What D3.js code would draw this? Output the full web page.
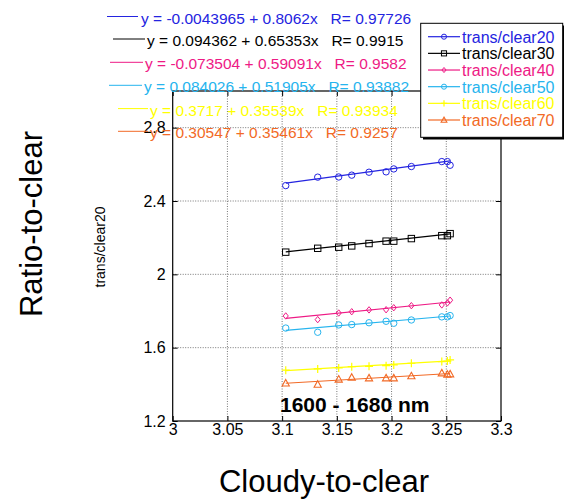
<!DOCTYPE html>
<html>
<head>
<meta charset="utf-8">
<script src="https://cdn.jsdelivr.net/npm/d3@7"></script>
<style>
  html, body { margin: 0; padding: 0; background: #fff; }
  svg { display: block; font-family: "Liberation Sans", Arial, sans-serif; }
</style>
</head>
<body>
<svg id="chart" width="564" height="499"></svg>
<script>
// ---- data ----
const xValues = [3.1033, 3.1325, 3.1517, 3.1636, 3.1794, 3.1950, 3.2020, 3.2181, 3.2459, 3.2510, 3.2535];
const clear20 = [2.484, 2.530, 2.531, 2.541, 2.557, 2.559, 2.575, 2.588, 2.615, 2.615, 2.595];
const clear30 = [2.121, 2.142, 2.148, 2.155, 2.168, 2.181, 2.181, 2.195, 2.211, 2.211, 2.222];
const clear40 = [1.773, 1.753, 1.789, 1.796, 1.806, 1.807, 1.818, 1.829, 1.833, 1.844, 1.859];
const clear50 = [1.707, 1.684, 1.724, 1.726, 1.736, 1.744, 1.733, 1.751, 1.768, 1.768, 1.775];
const clear60 = [1.477, 1.484, 1.489, 1.4965, 1.498, 1.502, 1.5056, 1.515, 1.524, 1.527, 1.533];
const clear70 = [1.407, 1.400, 1.428, 1.4385, 1.4347, 1.4347, 1.4347, 1.446, 1.462, 1.455, 1.4565];
const seriesNames = ["trans/clear20", "trans/clear30", "trans/clear40", "trans/clear50", "trans/clear60", "trans/clear70"];
const intercepts = [-0.0043965, 0.094362, -0.073504, 0.084026, 0.3717, 0.30547];
const slopes = [0.8062, 0.65353, 0.59091, 0.51905, 0.35539, 0.35461];
const fitLabels = [
  "y = -0.0043965 + 0.8062x   R= 0.97726",
  "y = 0.094362 + 0.65353x   R= 0.9915",
  "y = -0.073504 + 0.59091x   R= 0.9582",
  "y = 0.084026 + 0.51905x   R= 0.93882",
  "y = 0.3717 + 0.35539x   R= 0.93934",
  "y = 0.30547 + 0.35461x   R= 0.9257"
];
const xTicks = [3, 3.05, 3.1, 3.15, 3.2, 3.25, 3.3];
const yTicks = [1.2, 1.6, 2.0, 2.4, 2.8];
const xTitle = "Cloudy-to-clear";
const yTitle = "Ratio-to-clear";
const yInnerTitle = "trans/clear20";
const bandLabel = "1600 - 1680 nm";

// ---- styles ----
const seriesValues = [clear20, clear30, clear40, clear50, clear60, clear70];
const colors = ["#2424e0", "#000000", "#ee1a85", "#26b4ee", "#ffff00", "#f26a26"];
const markers = ["circle", "square", "diamond", "circle", "plus", "triangle"];

const svg = d3.select("#chart");
svg.append("rect").attr("width", 564).attr("height", 499).attr("fill", "#fff");

const L = 172.7, R = 501, T = 91, B = 421;
const x = d3.scaleLinear().domain([3, 3.3]).range([L, R]);
const y = d3.scaleLinear().domain([1.2, 3.0]).range([B, T]);

// gridlines
const grid = svg.append("g");
xTicks.slice(1, -1).forEach(t => {
  grid.append("line").attr("x1", x(t)).attr("x2", x(t)).attr("y1", T).attr("y2", B)
    .attr("stroke", "#777").attr("stroke-width", 1).attr("stroke-dasharray", "1,1.5");
});
yTicks.slice(1).forEach(t => {
  grid.append("line").attr("x1", L).attr("x2", R).attr("y1", y(t)).attr("y2", y(t))
    .attr("stroke", "#777").attr("stroke-width", 1).attr("stroke-dasharray", "1,1.5");
});

// axes
const fmtY = d => (d === 2 ? "2" : d3.format(".1f")(d));
const gx = svg.append("g").attr("transform", `translate(0,${B})`)
  .call(d3.axisBottom(x).tickValues(xTicks).tickSize(-5).tickPadding(3).tickFormat(d => String(+d.toFixed(2))));
const gy = svg.append("g").attr("transform", `translate(${L},0)`)
  .call(d3.axisLeft(y).tickValues(yTicks).tickSize(-5).tickPadding(7).tickFormat(fmtY));
const gr = svg.append("g").attr("transform", `translate(${R},0)`)
  .call(d3.axisRight(y).tickValues(yTicks).tickSize(-5).tickFormat(""));
const gt = svg.append("g").attr("transform", `translate(0,${T})`)
  .call(d3.axisTop(x).tickValues(xTicks).tickSize(-5).tickFormat(""));
[gx, gy, gr, gt].forEach(g => {
  g.select(".domain").remove();
  g.selectAll("line").attr("stroke", "#000");
  g.selectAll("text").attr("font-size", 16).attr("fill", "#000")
    .attr("font-family", "Liberation Sans, Arial, sans-serif");
});
svg.append("rect").attr("x", L).attr("y", T).attr("width", R - L).attr("height", B - T)
  .attr("fill", "none").attr("stroke", "#000").attr("stroke-width", 1.2);

// marker drawer
function drawMarker(g, type, cx, cy, color, s) {
  s = s || 1;
  if (type === "circle") {
    g.append("circle").attr("cx", cx).attr("cy", cy).attr("r", 3.2 * s)
      .attr("fill", "none").attr("stroke", color).attr("stroke-width", 1);
  } else if (type === "square") {
    const h = 3.2 * s;
    g.append("rect").attr("x", cx - h).attr("y", cy - h).attr("width", 2 * h).attr("height", 2 * h)
      .attr("fill", "none").attr("stroke", color).attr("stroke-width", 1);
  } else if (type === "diamond") {
    const h = 3.2 * s;
    g.append("path").attr("d", `M${cx},${cy - h}L${cx + h * 0.8},${cy}L${cx},${cy + h}L${cx - h * 0.8},${cy}Z`)
      .attr("fill", "none").attr("stroke", color).attr("stroke-width", 1);
  } else if (type === "plus") {
    const h = 4 * s;
    g.append("path").attr("d", `M${cx - h},${cy}H${cx + h}M${cx},${cy - h}V${cy + h}`)
      .attr("fill", "none").attr("stroke", color).attr("stroke-width", 1.2);
  } else if (type === "triangle") {
    const h = 3.6 * s;
    g.append("path").attr("d", `M${cx},${cy - h}L${cx + h},${cy + h * 0.8}L${cx - h},${cy + h * 0.8}Z`)
      .attr("fill", "none").attr("stroke", color).attr("stroke-width", 1.1);
  }
}

// series: fit lines and markers
const xMin = d3.min(xValues), xMax = d3.max(xValues);
seriesValues.forEach((vals, i) => {
  const g = svg.append("g");
  g.append("line")
    .attr("x1", x(xMin)).attr("y1", y(intercepts[i] + slopes[i] * xMin))
    .attr("x2", x(xMax)).attr("y2", y(intercepts[i] + slopes[i] * xMax))
    .attr("stroke", colors[i]).attr("stroke-width", 1.2);
  vals.forEach((v, j) => drawMarker(g, markers[i], x(xValues[j]), y(v), colors[i]));
});

// band label
svg.append("text").attr("x", 280).attr("y", 411.5).attr("font-size", 21).attr("font-weight", "bold")
  .attr("fill", "#000").text(bandLabel);

// equation labels (top-left)
const eqTextX = [141, 147, 145, 144, 150, 150];
const eqLine = [[107, 138], [113, 145], [110, 143], [109, 142], [118, 148], [118, 148]];
const eqBase = [23.5, 46, 69.3, 92.3, 115.6, 138.3];
fitLabels.forEach((lab, i) => {
  svg.append("line").attr("x1", eqLine[i][0]).attr("x2", eqLine[i][1])
    .attr("y1", eqBase[i] - 7).attr("y2", eqBase[i] - 7)
    .attr("stroke", colors[i]).attr("stroke-width", 1);
  svg.append("text").attr("x", eqTextX[i]).attr("y", eqBase[i]).attr("font-size", 15.5)
    .attr("fill", colors[i]).style("white-space", "pre").text(lab);
});

// legend
const lg = svg.append("g");
lg.append("rect").attr("x", 423).attr("y", 25.5).attr("width", 142).attr("height", 114).attr("fill", "#000");
lg.append("rect").attr("x", 420.7).attr("y", 23.3).attr("width", 142).attr("height", 114)
  .attr("fill", "#fff").attr("stroke", "#000").attr("stroke-width", 1);
seriesNames.forEach((name, i) => {
  const by = 42.7 + i * 16.66;
  const cy = by - 6;
  lg.append("line").attr("x1", 428).attr("x2", 460).attr("y1", cy).attr("y2", cy)
    .attr("stroke", colors[i]).attr("stroke-width", 1.2);
  drawMarker(lg, markers[i], 444, cy, colors[i], 0.8);
  lg.append("text").attr("x", 462).attr("y", by).attr("font-size", 16).attr("fill", colors[i]).text(name);
});

// titles
svg.append("text").attr("transform", "translate(42,224) rotate(-90)").attr("text-anchor", "middle")
  .attr("font-size", 31).attr("fill", "#000").text(yTitle);
svg.append("text").attr("transform", "translate(105,247) rotate(-90)").attr("text-anchor", "middle")
  .attr("font-size", 14).attr("fill", "#000").text(yInnerTitle);
svg.append("text").attr("x", 324).attr("y", 492).attr("text-anchor", "middle")
  .attr("font-size", 31).attr("fill", "#000").text(xTitle);
</script>
</body>
</html>
